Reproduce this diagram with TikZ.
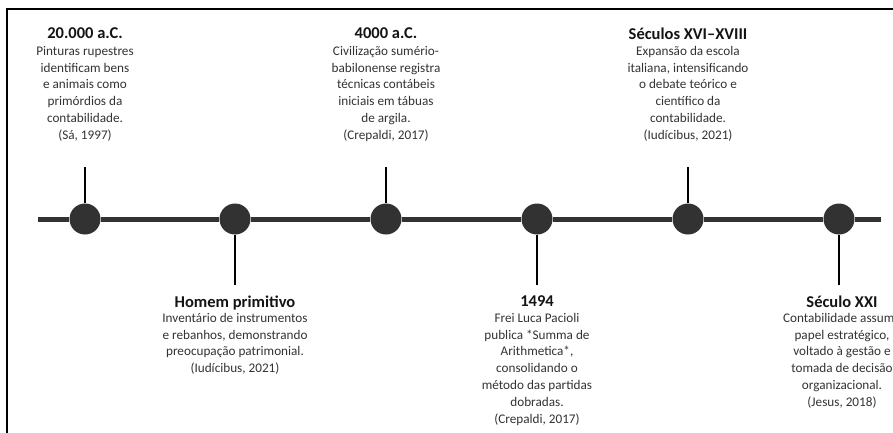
\documentclass[tikz,border=0pt]{standalone}
\usepackage{fontspec}
\setmainfont{Carlito}
\definecolor{dotgray}{HTML}{323232}
\definecolor{bodyc}{HTML}{333333}
\definecolor{titlec}{HTML}{141414}
\begin{document}
\begin{tikzpicture}[x=1pt,y=-1pt,
  dot/.style={circle,fill=dotgray,minimum size=31pt,inner sep=0pt},
  axis/.style={line width=5pt,dotgray},
  stem/.style={line width=2.6pt,black},
  frame/.style={line width=1.8pt,black},
  ttl/.style={font=\bfseries\fontsize{16.5}{18}\selectfont,text=titlec,inner sep=0pt,anchor=north},
  body/.style={font=\fontsize{13.2}{16.8}\selectfont,text=bodyc,align=center,inner sep=0pt,anchor=north}]
\useasboundingbox (0,0) rectangle (893,432);
\clip (0,0) rectangle (893,432);
\fill[white] (0,0) rectangle (893,432);
% frame
\coordinate (fb) at (7,440);
\coordinate (ftl) at (7,9);
\coordinate (ftr) at (900,9);
\draw[frame] (fb) -- (ftl) -- (ftr);
% timeline
\coordinate (L) at (38,219);
\coordinate (R) at (881,219);
\node[dot] (c1) at (85,219) {};
\node[dot] (c2) at (235,219) {};
\node[dot] (c3) at (386,219) {};
\node[dot] (c4) at (537,219) {};
\node[dot] (c5) at (688,219) {};
\node[dot] (c6) at (839,219) {};
\draw[axis] (L) -- (c1) -- (c2) -- (c3) -- (c4) -- (c5) -- (c6) -- (R);
% stems
\coordinate (s1) at (85,167);
\coordinate (s2) at (235,285);
\coordinate (s3) at (386,167);
\coordinate (s4) at (537,285);
\coordinate (s5) at (688,167);
\coordinate (s6) at (839,285);
\draw[stem] (c1) -- (s1);
\draw[stem] (c2) -- (s2);
\draw[stem] (c3) -- (s3);
\draw[stem] (c4) -- (s4);
\draw[stem] (c5) -- (s5);
\draw[stem] (c6) -- (s6);
% top texts
\node[ttl] (h1) at (85,27.5) {20.000 a.C.};
\node[body] (b1) at (85,46) {Pinturas rupestres\\identificam bens\\e animais como\\primórdios da\\contabilidade.\\(Sá, 1997)};
\node[ttl] (h3) at (386,27.5) {4000 a.C.};
\node[body] (b3) at (386,46) {Civilização sumério-\\babilonense registra\\técnicas contábeis\\iniciais em tábuas\\de argila.\\(Crepaldi, 2017)};
\node[ttl] (h5) at (688,27.5) {Séculos XVI–XVIII};
\node[body] (b5) at (688,46) {Expansão da escola\\italiana, intensificando\\o debate teórico e\\científico da\\contabilidade.\\(Iudícibus, 2021)};
% bottom texts
\node[ttl] (h2) at (235,295.5) {Homem primitivo};
\node[body] (b2) at (235,313) {Inventário de instrumentos\\e rebanhos, demonstrando\\preocupação patrimonial.\\(Iudícibus, 2021)};
\node[ttl] (h4) at (537,295.5) {1494};
\node[body] (b4) at (537,313) {Frei Luca Pacioli\\publica *Summa de\\Arithmetica*,\\consolidando o\\método das partidas\\dobradas.\\(Crepaldi, 2017)};
\node[ttl] (h6) at (842,295.5) {Século XXI};
\node[body] (b6) at (842,313) {Contabilidade assume\\papel estratégico,\\voltado à gestão e\\tomada de decisão\\organizacional.\\(Jesus, 2018)};
\end{tikzpicture}
\end{document}
